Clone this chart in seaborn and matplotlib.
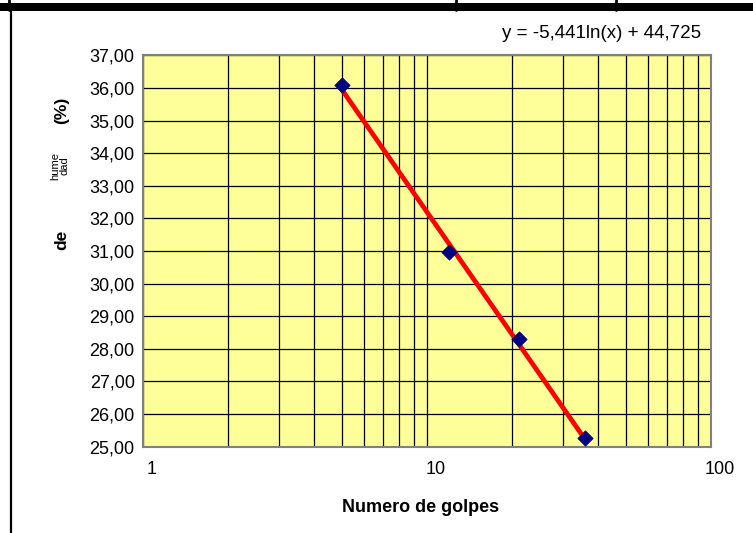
import numpy as np
import pandas as pd
import matplotlib
matplotlib.use("Agg")
import matplotlib.pyplot as plt
import matplotlib.ticker as mticker
import matplotlib.transforms as mtrans
from matplotlib.patches import Rectangle
from matplotlib.lines import Line2D
import seaborn as sns

# ---- data ----
golpes = [5, 12, 21, 36]
humedad = [36.10, 30.98, 28.29, 25.28]
coef_a = -5.441
coef_b = 44.725
equation_text = "y = -5,441ln(x) + 44,725"
x_label = "Numero de golpes"
x_ticks = [1, 10, 100]
x_tick_labels = ["1", "10", "100"]
y_ticks = list(range(25, 38))

sns.set_theme(style="white")
plt.rcParams["font.family"] = ["Liberation Sans", "DejaVu Sans"]

W, H = 753, 533
fig = plt.figure(figsize=(W / 100, H / 100), dpi=100)
fig.patch.set_facecolor("white")

x0, x1 = 143, 711
y0, y1 = 55.5, 446.7
ax = fig.add_axes([x0 / W, 1 - y1 / H, (x1 - x0) / W, (y1 - y0) / H])
ax.set_facecolor("#FFFF99")

df = pd.DataFrame({"golpes": golpes, "humedad": humedad})
xs = np.linspace(min(golpes), max(golpes), 60)
trend = pd.DataFrame({"x": xs, "y": coef_a * np.log(xs) + coef_b})

ax.set_xscale("log")
sns.lineplot(data=trend, x="x", y="y", ax=ax, color="#FF0000", lw=3.4,
             zorder=3, legend=False)
sns.scatterplot(data=df, x="golpes", y="humedad", ax=ax, marker="D", s=60,
                color="#000080", edgecolor="#000080", zorder=4, legend=False)

ax.set_xlim(1, 100)
ax.set_ylim(25, 37)
ax.set_xticks(x_ticks)
ax.set_xticklabels(x_tick_labels)
ax.xaxis.set_minor_locator(mticker.LogLocator(base=10, subs=np.arange(2, 10)))
ax.xaxis.set_minor_formatter(mticker.NullFormatter())
ax.set_yticks(y_ticks)
ax.yaxis.set_major_formatter(mticker.FuncFormatter(lambda v, p: f"{v:.2f}".replace(".", ",")))

ax.grid(True, which="major", axis="both", color="black", lw=0.9)
ax.grid(True, which="minor", axis="x", color="black", lw=0.9)
ax.set_axisbelow(True)

for s in ax.spines.values():
    s.set_color("#808080")
    s.set_linewidth(1.5)

ax.tick_params(axis="both", which="major", labelsize=13, colors="black",
               length=4, width=1, direction="out", pad=2)
ax.tick_params(axis="x", which="major", pad=6)
ax.tick_params(axis="x", which="minor", length=0)
for t in ax.get_xticklabels():
    t.set_transform(t.get_transform() + mtrans.ScaledTranslation(9 / 100, 0, fig.dpi_scale_trans))

ax.set_xlabel("")
ax.set_ylabel("")

# axis title and y-label fragments
fig.text(421 / W, 1 - 508 / H, x_label, ha="center", va="center",
         fontsize=13, fontweight="bold", color="black")
fig.text(62 / W, 1 - 110 / H, "(%)", rotation=90, ha="center", va="center",
         fontsize=12.5, fontweight="bold", color="black")
fig.text(62 / W, 1 - 240 / H, "de", rotation=90, ha="center", va="center",
         fontsize=12.5, fontweight="bold", color="black")
fig.text(60 / W, 1 - 166 / H, "hume\ndad", rotation=90, ha="center", va="center",
         fontsize=8, color="black", linespacing=1.0, multialignment="center")

# trendline equation
fig.text(701 / W, 1 - 33 / H, equation_text, ha="right", va="center",
         fontsize=13.5, color="black")

# surrounding sheet borders
fig.add_artist(Rectangle((0, 1 - 11 / H), 1, 8 / H, transform=fig.transFigure,
                         color="black", lw=0))
for xp in (9, 456, 616):
    fig.add_artist(Line2D([xp / W, xp / W], [1 - 10 / H, 1], transform=fig.transFigure,
                          color="black", lw=2))
fig.add_artist(Line2D([11 / W, 11 / W], [0, 1 - 10 / H], transform=fig.transFigure,
                      color="black", lw=1.6))

fig.savefig("out.png", dpi=100, facecolor="white")
